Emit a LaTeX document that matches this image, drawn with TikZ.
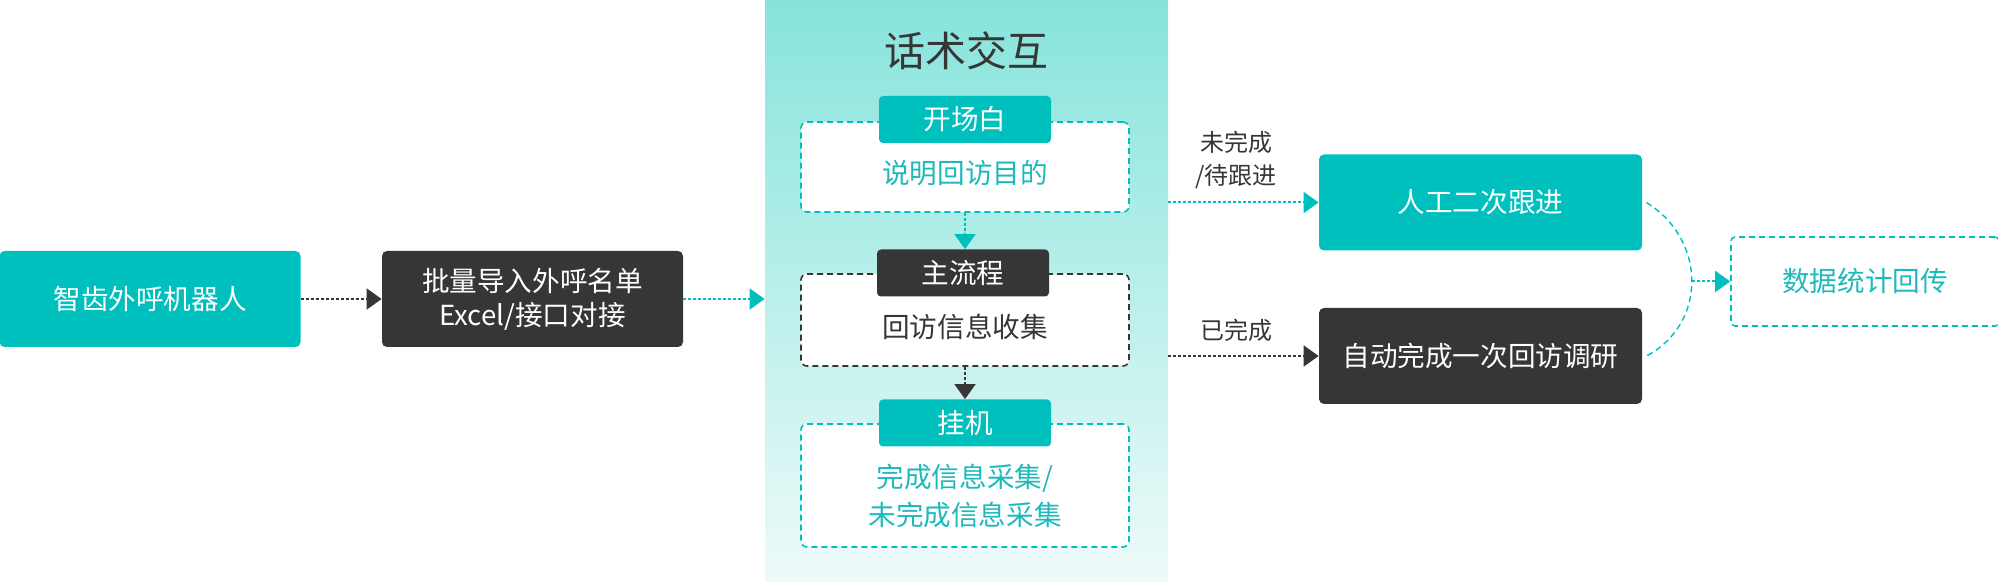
\documentclass[tikz,border=0pt]{standalone}
\usepackage{fontspec}
\setmainfont{Noto Sans CJK SC}
\usetikzlibrary{arrows.meta}
\definecolor{zcTeal}{RGB}{0,192,190}
\definecolor{zcDark}{RGB}{54,54,54}
\definecolor{zcText}{RGB}{30,185,188}
\definecolor{zcTop}{RGB}{134,228,220}
\definecolor{zcBottom}{RGB}{238,250,249}

\begin{document}
\begin{tikzpicture}[x=0.5pt,y=-0.5pt]

 \tikzset{
    box/.style={rounded corners=2.5pt, minimum width=150.5pt, minimum height=48pt,
      text=white, align=center, font=\fontsize{13.8}{17}\selectfont},
    tealbox/.style={box, fill=zcTeal},
    darkbox/.style={box, fill=zcDark},
    stage/.style={dashed, dash pattern=on 3pt off 2pt, line width=0.8pt,
      rounded corners=3pt, fill=white, minimum width=164pt},
    tag/.style={rounded corners=2pt, minimum width=86pt, minimum height=23.5pt,
      text=white, font=\fontsize{13.8}{17}\selectfont},
    note/.style={align=center, font=\fontsize{13.8}{19}\selectfont},
    remark/.style={align=center, text=zcDark, font=\fontsize{12}{16.5}\selectfont},
    flow/.style={dash pattern=on 1.5pt off 1pt, line width=1pt,
      -{Triangle[length=7.5pt,width=10.5pt]}},
  }

  \useasboundingbox (0,0) rectangle (1998,582);

  \node[tealbox] (robot) at (150,299) {智齿外呼机器人};
  \node[darkbox] (import) at (532.5,299) {批量导入外呼名单\\Excel/接口对接};

  % middle column
  \node[top color=zcTop, bottom color=zcBottom, minimum width=201.5pt,
    minimum height=291pt, inner sep=0pt] (panel) at (966.5,291) {};
  \node[text=zcDark, font=\fontsize{20.5}{24}\selectfont] (title) at (966,51) {话术交互};

  \node[stage, draw=zcTeal, minimum height=45pt] (open) at (965,167) {};
  \node[tag, fill=zcTeal] (openTag) at (965,119.5) {开场白};
  \node[note, text=zcText] (openTxt) at (965,173) {说明回访目的};

  \node[stage, draw=zcDark, minimum height=46pt] (main) at (965,320) {};
  \node[tag, fill=zcDark] (mainTag) at (963,273) {主流程};
  \node[note, text=zcDark] (mainTxt) at (965,327) {回访信息收集};

  \node[stage, draw=zcTeal, minimum height=61.5pt] (hang) at (965,485.5) {};
  \node[tag, fill=zcTeal] (hangTag) at (965,423) {挂机};
  \node[note, text=zcText] (hangTxt) at (965,496) {完成信息采集/\\未完成信息采集};

  % right column
  \node[tealbox, minimum width=161.5pt] (follow) at (1480.5,202.5) {人工二次跟进};
  \node[darkbox, minimum width=161.5pt] (auto) at (1480.5,356) {自动完成一次回访调研};
  \node[stage, draw=zcTeal, rounded corners=2pt, minimum width=134pt, minimum height=44.5pt,
    text=zcText, font=\fontsize{13.8}{17}\selectfont] (data) at (1865,281.5) {数据统计回传};

  \node[remark] (todo) at (1236,160) {未完成\\/待跟进};
  \node[remark] (done) at (1236,330) {已完成};

  \draw[flow, zcDark] (robot) -- (import);
  \draw[flow, zcTeal] (import.east) -- (import.east -| panel.west);
  \draw[flow, zcTeal] (open.south) -- (open.south |- mainTag.north);
  \draw[flow, zcDark] (main.south) -- (main.south |- hangTag.north);
  \draw[flow, zcTeal] (follow.west -| panel.east) -- (follow.west);
  \draw[flow, zcDark] (auto.west -| panel.east) -- (auto.west);

  \draw[zcTeal, line width=0.7pt, dash pattern=on 3pt off 2pt]
    ([xshift=2pt]follow.east) .. controls (1707,240) and (1707,324) .. ([xshift=2pt]auto.east);
  \coordinate (merge) at (1692,281.5);
  \draw[flow, zcTeal] (merge) -- (data.west);
\end{tikzpicture}
\end{document}
